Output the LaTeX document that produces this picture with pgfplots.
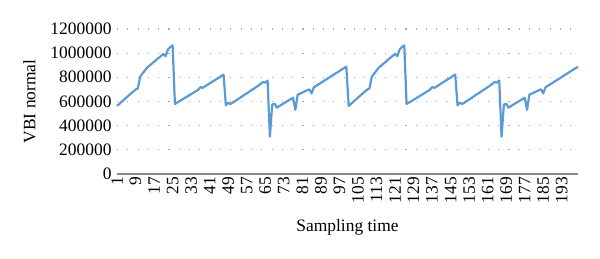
\documentclass[border=0pt]{standalone}
\usepackage{pgfplots}
\pgfplotsset{compat=1.18}
\usepackage{fontspec}
\setmainfont{Liberation Serif}
\definecolor{xlblue}{RGB}{91,155,213}
\definecolor{gridc}{RGB}{170,170,170}
\definecolor{axc}{RGB}{134,134,134}
\newcommand\ff{\fontsize{17.5}{20}\selectfont}
\begin{document}
\begin{tikzpicture}
\path[use as bounding box] (-117bp,-85.3bp) rectangle (483bp,173.7bp);
\begin{axis}[
  scale only axis,
  width=461bp, height=144.7bp,
  xmin=1, xmax=200,
  ymin=0, ymax=1200000,
  ytick={0,200000,...,1200000},
  xtick={1,9,...,193},
  scaled y ticks=false,
  /pgf/number format/assume math mode=true,
  yticklabel style={/pgf/number format/fixed,/pgf/number format/1000 sep={},font=\ff,xshift=-2bp},
  xticklabel style={rotate=90,anchor=east,font=\ff,yshift=0bp},
  axis x line*=bottom, axis y line*=left,
  x axis line style={draw=axc,line width=1.6bp,-},
  y axis line style={draw=none},
  major tick length=0pt,
  ymajorgrids,
  grid style={draw=gridc,line width=1.1bp,dash pattern=on 1.1bp off 9.2bp},
  ylabel={VBI normal},
  ylabel style={at={(axis description cs:-0.19,0.5)},anchor=center,font=\ff},
  xlabel={Sampling time},
  xlabel style={at={(axis description cs:0.5,-0.373)},anchor=center,font=\ff},
  clip=false,
]
\addplot[xlblue,line width=2.2bp,line join=round,no marks] coordinates {
(1,562000)(2,579000)(3,596000)(4,614000)(5,631000)(6,648000)(7,665000)(8,681000)(9,697000)(10,708000)
(11,805000)(12,830000)(13,855000)(14,880000)(15,896000)(16,912000)(17,928000)(18,945000)(19,961000)(20,977000)
(21,993000)(22,975000)(23,1030000)(24,1050000)(25,1065000)(26,578000)(27,590000)(28,601000)(29,613000)(30,625000)
(31,636000)(32,648000)(33,660000)(34,671000)(35,683000)(36,695000)(37,718000)(38,712000)(39,724000)(40,736000)
(41,749000)(42,761000)(43,773000)(44,785000)(45,797000)(46,810000)(47,822000)(48,567000)(49,589000)(50,578000)
(51,590000)(52,603000)(53,615000)(54,628000)(55,641000)(56,654000)(57,666000)(58,679000)(59,692000)(60,704000)
(61,717000)(62,730000)(63,745000)(64,760000)(65,755000)(66,772000)(67,307000)(68,572000)(69,582000)(70,548000)
(71,560000)(72,572000)(73,584000)(74,595000)(75,607000)(76,618000)(77,630000)(78,530000)(79,655000)(80,664000)
(81,673000)(82,682000)(83,691000)(84,700000)(85,667000)(86,717000)(87,729000)(88,741000)(89,753000)(90,766000)
(91,778000)(92,790000)(93,802000)(94,815000)(95,827000)(96,839000)(97,851000)(98,864000)(99,876000)(100,888000)
(101,562000)(102,579000)(103,596000)(104,614000)(105,631000)(106,648000)(107,665000)(108,681000)(109,697000)(110,708000)
(111,805000)(112,830000)(113,855000)(114,880000)(115,896000)(116,912000)(117,928000)(118,945000)(119,961000)(120,977000)
(121,993000)(122,975000)(123,1030000)(124,1050000)(125,1065000)(126,578000)(127,590000)(128,601000)(129,613000)(130,625000)
(131,636000)(132,648000)(133,660000)(134,671000)(135,683000)(136,695000)(137,718000)(138,712000)(139,724000)(140,736000)
(141,749000)(142,761000)(143,773000)(144,785000)(145,797000)(146,810000)(147,822000)(148,567000)(149,589000)(150,578000)
(151,590000)(152,603000)(153,615000)(154,628000)(155,641000)(156,654000)(157,666000)(158,679000)(159,692000)(160,704000)
(161,717000)(162,730000)(163,745000)(164,760000)(165,755000)(166,772000)(167,307000)(168,572000)(169,582000)(170,548000)
(171,560000)(172,572000)(173,584000)(174,595000)(175,607000)(176,618000)(177,630000)(178,530000)(179,655000)(180,664000)
(181,673000)(182,682000)(183,691000)(184,700000)(185,667000)(186,717000)(187,729000)(188,741000)(189,753000)(190,766000)
(191,778000)(192,790000)(193,802000)(194,815000)(195,827000)(196,839000)(197,851000)(198,864000)(199,876000)(200,886000)
};
\end{axis}
\end{tikzpicture}
\end{document}
